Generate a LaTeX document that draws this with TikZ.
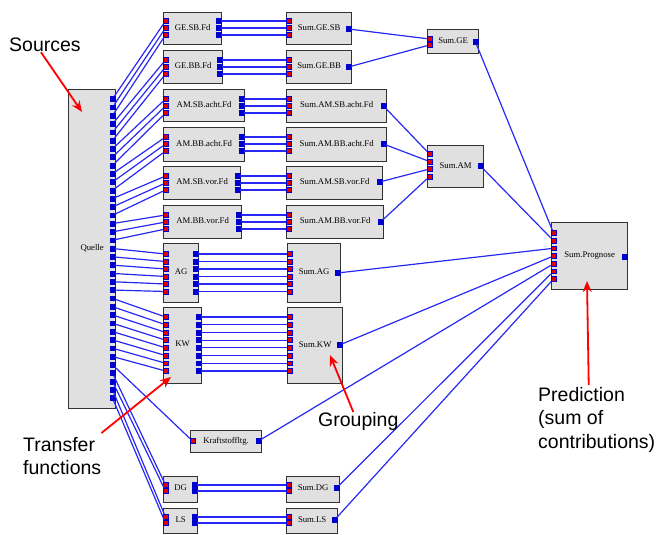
\documentclass[tikz,border=0pt]{standalone}
\usepackage{fontspec}
\setmainfont{Liberation Serif}
\newfontfamily\notefont{Liberation Sans}
\usetikzlibrary{arrows.meta}
\definecolor{wireblue}{RGB}{40,40,245}
\definecolor{portblue}{RGB}{0,0,205}
\definecolor{portred}{RGB}{225,0,0}
\definecolor{boxfill}{RGB}{224,224,224}
\definecolor{boxdraw}{RGB}{50,50,50}
\definecolor{notered}{RGB}{255,0,0}
\tikzset{
block/.style={
	draw=boxdraw,
	line width=1.3pt,
	fill=boxfill,
	shape=rectangle,
	inner sep=0pt,
	anchor=north west,
	font=\fontsize{8.7}{10}\selectfont,
},
inport/.style={
	draw=portblue,
	line width=0.5pt,
	fill=portred,
	shape=rectangle,
	inner sep=0pt,
	minimum size=4.8pt,
},
outport/.style={
	draw=portblue,
	line width=0.5pt,
	fill=portblue,
	shape=rectangle,
	inner sep=0pt,
	minimum size=4.8pt,
},
wire/.style={
	draw=wireblue,
	line width=1.2pt,
},
pointer/.style={
	draw=notered,
	line width=1.8pt,
	-{Stealth[length=11pt,width=9pt]},
},
note/.style={
	font=\notefont\fontsize{19.5}{23.5}\selectfont,
	align=left,
	inner sep=0pt,
	anchor=north west,
}
}

\begin{document}
\begin{tikzpicture}[x=1pt, y=-1pt]
		\useasboundingbox (0,0) rectangle (657,535);

		% Source block
		\node[block, minimum width=47pt, minimum height=319pt] (quelle) at (68,89) {\raisebox{3pt}{Quelle}};

		% Transfer functions
		\node[block, minimum width=58pt, minimum height=32pt] (gesbfd) at (163,12) {\raisebox{3pt}{GE.SB.Fd}};
		\node[block, minimum width=59pt, minimum height=33pt] (gebbfd) at (163,50) {\raisebox{3pt}{GE.BB.Fd}};
		\node[block, minimum width=81pt, minimum height=32pt] (amsbachtfd) at (163,89) {\raisebox{3pt}{AM.SB.acht.Fd}};
		\node[block, minimum width=81pt, minimum height=34pt] (ambbachtfd) at (163,127) {\raisebox{3pt}{AM.BB.acht.Fd}};
		\node[block, minimum width=77pt, minimum height=33pt] (amsbvorfd) at (163,166) {\raisebox{3pt}{AM.SB.vor.Fd}};
		\node[block, minimum width=78pt, minimum height=33pt] (ambbvorfd) at (163,205) {\raisebox{3pt}{AM.BB.vor.Fd}};
		\node[block, minimum width=35pt, minimum height=59pt] (ag) at (163,243) {\raisebox{3pt}{AG}};
		\node[block, minimum width=38pt, minimum height=76pt] (kw) at (163,307) {\raisebox{3pt}{KW}};
		\node[block, minimum width=71pt, minimum height=22pt] (kraft) at (190,430) {\raisebox{2pt}{Kraftstoffltg.}};
		\node[block, minimum width=34pt, minimum height=26pt] (dg) at (163,476) {\raisebox{4pt}{DG}};
		\node[block, minimum width=34pt, minimum height=25pt] (ls) at (163,508) {\raisebox{4pt}{LS}};

		% Grouping
		\node[block, minimum width=65pt, minimum height=32pt] (sumgesb) at (286,12) {\raisebox{3pt}{Sum.GE.SB}};
		\node[block, minimum width=65pt, minimum height=33pt] (sumgebb) at (286,50) {\raisebox{3pt}{Sum.GE.BB}};
		\node[block, minimum width=100pt, minimum height=33pt] (sumamsbacht) at (286,89) {\raisebox{3pt}{Sum.AM.SB.acht.Fd}};
		\node[block, minimum width=100pt, minimum height=34pt] (sumambbacht) at (286,127) {\raisebox{3pt}{Sum.AM.BB.acht.Fd}};
		\node[block, minimum width=96pt, minimum height=33pt] (sumamsbvor) at (286,166) {\raisebox{3pt}{Sum.AM.SB.vor.Fd}};
		\node[block, minimum width=97pt, minimum height=33pt] (sumambbvor) at (286,205) {\raisebox{3pt}{Sum.AM.BB.vor.Fd}};
		\node[block, minimum width=53pt, minimum height=59pt] (sumag) at (287,243) {\raisebox{3pt}{Sum.AG}};
		\node[block, minimum width=55pt, minimum height=76pt] (sumkw) at (287,307) {\raisebox{3pt}{Sum.KW}};
		\node[block, minimum width=53pt, minimum height=26pt] (sumdg) at (286,476) {\raisebox{4pt}{Sum.DG}};
		\node[block, minimum width=51pt, minimum height=25pt] (sumls) at (286,508) {\raisebox{4pt}{Sum.LS}};
		\node[block, minimum width=51pt, minimum height=24pt] (sumge) at (427,29) {\raisebox{2pt}{Sum.GE}};
		\node[block, minimum width=56pt, minimum height=42pt] (sumam) at (427,145) {\raisebox{3pt}{Sum.AM}};

		% Prediction
		\node[block, minimum width=76pt, minimum height=67pt] (sumprog) at (551,222) {\raisebox{3pt}{Sum.Prognose}};

		% Ports
		\foreach \i in {1,...,37}
			\node[outport] (q\i) at (112.5,{99+(\i-1)*8.306}) {};

		\foreach \y [count=\k] in {21,28,35} {
			\node[inport] (gesbfd-i\k) at (165.5,\y) {};
			\node[outport] (gesbfd-o\k) at (218.5,\y) {};
			\node[inport] (sumgesb-i\k) at (288.5,\y) {};
		}
		\foreach \y [count=\k] in {60,67,74} {
			\node[inport] (gebbfd-i\k) at (165.5,\y) {};
			\node[outport] (gebbfd-o\k) at (219.5,\y) {};
			\node[inport] (sumgebb-i\k) at (288.5,\y) {};
		}
		\foreach \y [count=\k] in {99,106,113} {
			\node[inport] (amsbachtfd-i\k) at (165.5,\y) {};
			\node[outport] (amsbachtfd-o\k) at (241.5,\y) {};
			\node[inport] (sumamsbacht-i\k) at (288.5,\y) {};
		}
		\foreach \y [count=\k] in {137,144,151} {
			\node[inport] (ambbachtfd-i\k) at (165.5,\y) {};
			\node[outport] (ambbachtfd-o\k) at (241.5,\y) {};
			\node[inport] (sumambbacht-i\k) at (288.5,\y) {};
		}
		\foreach \y [count=\k] in {176,183,190} {
			\node[inport] (amsbvorfd-i\k) at (165.5,\y) {};
			\node[outport] (amsbvorfd-o\k) at (237.5,\y) {};
			\node[inport] (sumamsbvor-i\k) at (288.5,\y) {};
		}
		\foreach \y [count=\k] in {215,222,229} {
			\node[inport] (ambbvorfd-i\k) at (165.5,\y) {};
			\node[outport] (ambbvorfd-o\k) at (238.5,\y) {};
			\node[inport] (sumambbvor-i\k) at (288.5,\y) {};
		}
		\foreach \y [count=\k] in {254,261.5,269,276.5,284,291.5} {
			\node[inport] (ag-i\k) at (165.5,\y) {};
			\node[outport] (ag-o\k) at (195.5,\y) {};
			\node[inport] (sumag-i\k) at (289.5,\y) {};
		}
		\foreach \y [count=\k] in {317,324.7,332.4,340.1,347.8,355.5,363.2,371} {
			\node[inport] (kw-i\k) at (165.5,\y) {};
			\node[outport] (kw-o\k) at (198.5,\y) {};
			\node[inport] (sumkw-i\k) at (289.5,\y) {};
		}
		\foreach \y [count=\k] in {485,491} {
			\node[inport] (dg-i\k) at (165.5,\y) {};
			\node[outport] (dg-o\k) at (194.5,\y) {};
			\node[inport] (sumdg-i\k) at (288.5,\y) {};
		}
		\foreach \y [count=\k] in {517,523} {
			\node[inport] (ls-i\k) at (165.5,\y) {};
			\node[outport] (ls-o\k) at (194.5,\y) {};
			\node[inport] (sumls-i\k) at (288.5,\y) {};
		}
		\node[inport] (kraft-i1) at (192.5,441) {};
		\node[outport] (kraft-o) at (258.5,441) {};

		\node[outport] (sumgesb-o) at (348.5,29) {};
		\node[outport] (sumgebb-o) at (348.5,67) {};
		\node[outport] (sumamsbacht-o) at (383.5,106) {};
		\node[outport] (sumambbacht-o) at (383.5,144) {};
		\node[outport] (sumamsbvor-o) at (379.5,182) {};
		\node[outport] (sumambbvor-o) at (380.5,222) {};
		\node[outport] (sumag-o) at (337.5,273) {};
		\node[outport] (sumkw-o) at (339.5,345) {};
		\node[outport] (sumdg-o) at (336.5,488) {};
		\node[outport] (sumls-o) at (334.5,520) {};

		\foreach \y [count=\k] in {39,45}
			\node[inport] (sumge-i\k) at (429.5,\y) {};
		\node[outport] (sumge-o) at (475.5,42) {};
		\foreach \y [count=\k] in {154,161.5,169,176.5}
			\node[inport] (sumam-i\k) at (429.5,\y) {};
		\node[outport] (sumam-o) at (480.5,166) {};
		\foreach \y [count=\k] in {233,240.7,248.3,256,263.7,271.3,279}
			\node[inport] (sumprog-i\k) at (553.5,\y) {};
		\node[outport] (sumprog-o) at (624.5,257) {};

		% Quelle ->
		\foreach \k [evaluate=\k as \j using int(\k)] in {1,2,3}
			\draw[wire] (q\j) -- (gesbfd-i\k);
		\foreach \k [evaluate=\k as \j using int(\k+3)] in {1,2,3}
			\draw[wire] (q\j) -- (gebbfd-i\k);
		\foreach \k [evaluate=\k as \j using int(\k+6)] in {1,2,3}
			\draw[wire] (q\j) -- (amsbachtfd-i\k);
		\foreach \k [evaluate=\k as \j using int(\k+9)] in {1,2,3}
			\draw[wire] (q\j) -- (ambbachtfd-i\k);
		\foreach \k [evaluate=\k as \j using int(\k+12)] in {1,2,3}
			\draw[wire] (q\j) -- (amsbvorfd-i\k);
		\foreach \k [evaluate=\k as \j using int(\k+15)] in {1,2,3}
			\draw[wire] (q\j) -- (ambbvorfd-i\k);
		\foreach \k [evaluate=\k as \j using int(\k+18)] in {1,...,6}
			\draw[wire] (q\j) -- (ag-i\k);
		\foreach \k [evaluate=\k as \j using int(\k+24)] in {1,...,8}
			\draw[wire] (q\j) -- (kw-i\k);
		\draw[wire] (q33) -- (kraft-i1);
		\draw[wire] (q34) -- (dg-i1);
		\draw[wire] (q35) -- (dg-i2);
		\draw[wire] (q36) -- (ls-i1);
		\draw[wire] (q37) -- (ls-i2);

		% Transfer functions -> Grouping
		\foreach \k in {1,2,3} {
			\draw[wire] (gesbfd-o\k) -- (sumgesb-i\k);
			\draw[wire] (gebbfd-o\k) -- (sumgebb-i\k);
			\draw[wire] (amsbachtfd-o\k) -- (sumamsbacht-i\k);
			\draw[wire] (ambbachtfd-o\k) -- (sumambbacht-i\k);
			\draw[wire] (amsbvorfd-o\k) -- (sumamsbvor-i\k);
			\draw[wire] (ambbvorfd-o\k) -- (sumambbvor-i\k);
		}
		\foreach \k in {1,...,6}
			\draw[wire] (ag-o\k) -- (sumag-i\k);
		\foreach \k in {1,...,8}
			\draw[wire] (kw-o\k) -- (sumkw-i\k);
		\foreach \k in {1,2} {
			\draw[wire] (dg-o\k) -- (sumdg-i\k);
			\draw[wire] (ls-o\k) -- (sumls-i\k);
		}

		% Sum.GE, Sum.AM
		\draw[wire] (sumgesb-o) -- (sumge-i1);
		\draw[wire] (sumgebb-o) -- (sumge-i2);
		\draw[wire] (sumamsbacht-o) -- (sumam-i1);
		\draw[wire] (sumambbacht-o) -- (sumam-i2);
		\draw[wire] (sumamsbvor-o) -- (sumam-i3);
		\draw[wire] (sumambbvor-o) -- (sumam-i4);

		% -> Sum.Prognose
		\draw[wire] (sumge-o) -- (sumprog-i1);
		\draw[wire] (sumam-o) -- (sumprog-i2);
		\draw[wire] (sumag-o) -- (sumprog-i3);
		\draw[wire] (sumkw-o) -- (sumprog-i4);
		\draw[wire] (kraft-o) -- (sumprog-i5);
		\draw[wire] (sumdg-o) -- (sumprog-i6);
		\draw[wire] (sumls-o) -- (sumprog-i7);

		% Notes
		\node[note] (sources) at (9,38) {Sources};
		\node[note] (transfer) at (23,437) {Transfer\\functions};
		\node[note] (grouping) at (318,412) {Grouping};
		\node[note] (prediction) at (538,387) {Prediction\\(sum of\\contributions)};

		\coordinate (quelle-tip) at (82,112);
		\coordinate (kw-tip) at (171,377);
		\coordinate (sumkw-tip) at (330,355);
		\coordinate (sumprog-tip) at (587,281);

		\draw[pointer] ([xshift=-4pt]sources.south) -- (quelle-tip);
		\draw[pointer] ([yshift=4pt]transfer.north east) -- (kw-tip);
		\draw[pointer] ([xshift=-5pt]grouping.north) -- (sumkw-tip);
		\draw[pointer] ([xshift=-8pt, yshift=2pt]prediction.north) -- (sumprog-tip);
\end{tikzpicture}
\end{document}
